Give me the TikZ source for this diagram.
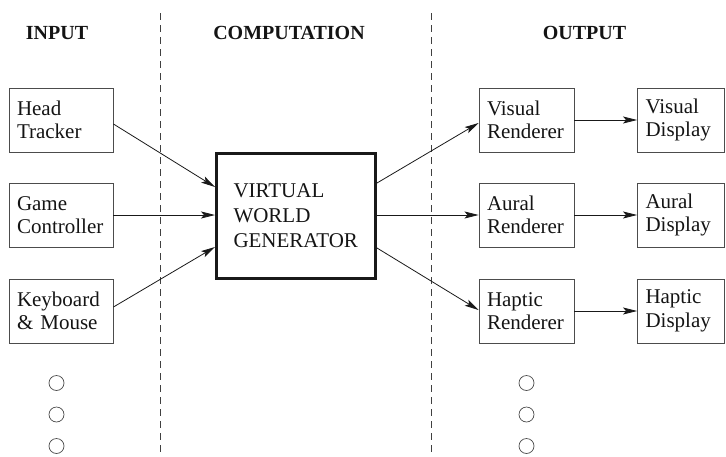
\documentclass[tikz,border=0pt]{standalone}
\usepackage{fontspec}
\setmainfont{Liberation Serif}
\usetikzlibrary{arrows.meta}
\begin{document}
\begin{tikzpicture}[x=1pt,y=-1pt,
  every node/.style={font=\fontsize{21}{23.5}\selectfont, text=black!92},
  sbox/.style={draw=black!70, line width=0.9pt, rectangle, align=left, inner xsep=8pt, inner ysep=0pt, minimum height=64pt},
  inbox/.style={sbox, text width=88pt},
  renbox/.style={sbox, text width=79pt},
  disbox/.style={sbox, text width=71pt},
  bigbox/.style={draw=black!90, line width=3pt, rectangle, align=left, inner xsep=17pt, text width=125pt, minimum height=125pt, font=\fontsize{21}{25}\selectfont},
  header/.style={font=\fontsize{20}{24}\selectfont\bfseries, anchor=base},
  arr/.style={-{Stealth[length=14pt,width=7pt,inset=3pt]}, line width=0.8pt, draw=black!90},
  sep/.style={draw=black!75, line width=0.8pt, dash pattern=on 7pt off 5pt},
  dot/.style={circle, draw=black!70, line width=0.7pt, minimum size=15pt, inner sep=0pt}
]
\useasboundingbox (0,0) rectangle (726,456);

% separators
\draw[sep] (160.5,13) -- (160.5,456);
\draw[sep] (431.5,13) -- (431.5,456);

% headers
\node[header] (hin) at (57,39) {INPUT};
\node[header] (hcomp) at (289,39) {COMPUTATION};
\node[header] (hout) at (584.5,39) {OUTPUT};

% input boxes
\node[inbox] (ht) at (61,120) {Head\\Tracker};
\node[inbox] (gc) at (61,215) {Game\\Controller};
\node[inbox] (km) at (61,311) {Keyboard\\\& Mouse};

% central box
\node[bigbox] (vw) at (296,216) {VIRTUAL\\WORLD\\GENERATOR};

% renderers
\node[renbox] (vr) at (526.5,120) {Visual\\Renderer};
\node[renbox] (ar) at (526.5,215) {Aural\\Renderer};
\node[renbox] (hr) at (526.5,311) {Haptic\\Renderer};

% displays
\node[disbox] (vd) at (681,120) {Visual\\Display};
\node[disbox] (ad) at (681,215) {Aural\\Display};
\node[disbox] (hd) at (681,311) {Haptic\\Display};

% arrows in
\draw[arr] ([yshift=-4pt]ht.east) -- ([yshift=29pt]vw.west);
\draw[arr] (gc.east) -- (vw.west |- gc.east);
\draw[arr] ([yshift=4pt]km.east) -- ([yshift=-31pt]vw.west);

% arrows out
\draw[arr] ([yshift=33pt]vw.east) -- ([yshift=-3pt]vr.west);
\draw[arr] (vw.east |- ar.west) -- (ar.west);
\draw[arr] ([yshift=-32pt]vw.east) -- ([yshift=1pt]hr.west);

\draw[arr] (vr.east) -- (vd.west);
\draw[arr] (ar.east) -- (ad.west);
\draw[arr] (hr.east) -- (hd.west);

% ellipsis circles
\node[dot] (i1) at (56.5,383) {};
\node[dot] (i2) at (56.5,414.5) {};
\node[dot] (i3) at (56.5,446) {};
\node[dot] (o1) at (526.5,383) {};
\node[dot] (o2) at (526.5,414.5) {};
\node[dot] (o3) at (526.5,446) {};
\end{tikzpicture}
\end{document}
